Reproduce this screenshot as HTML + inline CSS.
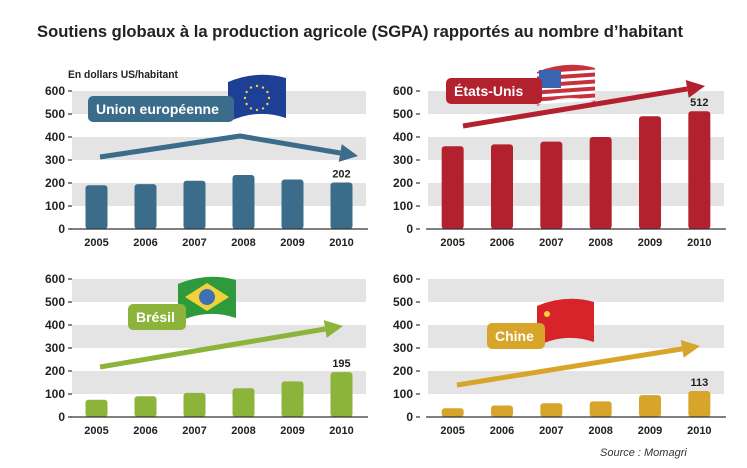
<!DOCTYPE html>
<html><head><meta charset="utf-8"><style>
body{margin:0;background:#fff}
svg{display:block}
text{font-family:"Liberation Sans",sans-serif}
</style></head><body>
<svg id="c" width="747" height="468">
<text x="37" y="37" font-size="17" font-weight="bold" fill="#222" textLength="646" lengthAdjust="spacingAndGlyphs">Soutiens globaux à la production agricole (SGPA) rapportés au nombre d’habitant</text>
<text x="68" y="78" font-size="11" font-weight="bold" fill="#222" textLength="110" lengthAdjust="spacingAndGlyphs">En dollars US/habitant</text>
<text x="600" y="456" font-size="11" font-style="italic" fill="#333">Source : Momagri</text>
</svg>
<script>
const years = ["2005","2006","2007","2008","2009","2010"];
const ticks = [0,100,200,300,400,500,600];
const euValues = [190,195,210,235,215,202];
const usValues = [360,368,380,400,490,512];
const brValues = [75,90,105,125,155,195];
const cnValues = [38,50,60,68,95,113];
const NS="http://www.w3.org/2000/svg";
const svg=document.getElementById('c');
function mk(tag,attrs,parent){const e=document.createElementNS(NS,tag);for(const k in attrs)e.setAttribute(k,attrs[k]);(parent||svg).appendChild(e);return e;}
const panels=[
 {key:'eu',vals:euValues,color:'#3b6d8a',labX:45,x0:72,x1:366,yTop:91,y0:229,label:'Union européenne',box:[88,96,146,26],flag:[228,74,58,48],
  arrow:[[100,157],[240,136],[358,156]]},
 {key:'us',vals:usValues,color:'#b3202e',labX:393,x0:428,x1:724,yTop:91,y0:229,label:'États-Unis',box:[446,78,96,26],flag:[537,64,58,42],
  arrow:[[463,126],[705,86]]},
 {key:'br',vals:brValues,color:'#8cb43a',labX:45,x0:72,x1:366,yTop:279,y0:417,label:'Brésil',box:[128,304,58,26],flag:[178,276,58,46],
  arrow:[[100,367],[343,326]]},
 {key:'cn',vals:cnValues,color:'#d6a52a',labX:393,x0:428,x1:724,yTop:279,y0:417,label:'Chine',box:[487,323,58,26],flag:[537,298,57,48],
  arrow:[[457,385],[700,346]]}
];
panels.forEach(p=>{
 const g=mk('g',{});
 
 
 const yS=v=>p.y0-(v/600)*(p.y0-p.yTop);
 const step=(p.x1-p.x0)/years.length;
 const xS=i=>p.x0+step*(i+0.5);
 [[100,200],[300,400],[500,600]].forEach(b=>{
  const r=mk('rect',{x:p.x0,y:yS(b[1]),width:p.x1-p.x0,height:yS(b[0])-yS(b[1]),fill:'#e4e4e4'},g);
  
  
 });
 ticks.forEach(t=>{
  const tx=mk('text',{x:p.labX+20,y:yS(t)+4,'font-size':12,'font-weight':'bold',fill:'#222','text-anchor':'end'},g);
  tx.textContent=t;
  
  
  mk('line',{x1:p.labX+23,x2:p.labX+27,y1:yS(t),y2:yS(t),stroke:'#333','stroke-width':1.2},g);
 });
 p.vals.forEach((v,i)=>{
  const r=mk('rect',{x:xS(i)-11,y:yS(v),width:22,height:p.y0-yS(v),rx:3,fill:p.color},g);
  
  
  const t=mk('text',{x:xS(i),y:p.y0+17,'font-size':11,'font-weight':'bold',fill:'#222','text-anchor':'middle'},g);
  t.textContent=years[i];
  
  
 });
 mk('line',{x1:p.x0-2,x2:p.x1+2,y1:p.y0,y2:p.y0,stroke:'#333','stroke-width':1.2},g);
 const last=p.vals.length-1;
 const vl=mk('text',{x:xS(last),y:yS(p.vals[last])-5,'font-size':11,'font-weight':'bold',fill:'#222','text-anchor':'middle'},g);
 vl.textContent=p.vals[last];
 
 
 // arrow
 const pts=p.arrow;
 const n=pts.length;
 const [ax,ay]=pts[n-2],[bx,by]=pts[n-1];
 const ang=Math.atan2(by-ay,bx-ax);
 const hx=bx-18*Math.cos(ang),hy=by-18*Math.sin(ang);
 const pl=pts.slice(0,n-1).map(q=>q.join(',')).join(' ')+' '+hx+','+hy;
 const line=mk('polyline',{points:pl,fill:'none',stroke:p.color,'stroke-width':5,'stroke-linejoin':'round'},g);
 
 
 const px=-Math.sin(ang),py=Math.cos(ang);
 mk('polygon',{points:`${bx},${by} ${hx+9*px},${hy+9*py} ${hx-9*px},${hy-9*py}`,fill:p.color},g);
 // flag
 const f=p.flag;
 const flag=mk('g',{},g);
 
 
 const fpath=`M${f[0]},${f[1]+8} Q${f[0]+f[2]*0.5},${f[1]-4} ${f[0]+f[2]},${f[1]+4} L${f[0]+f[2]},${f[1]+f[3]-4} Q${f[0]+f[2]*0.5},${f[1]+f[3]-14} ${f[0]},${f[1]+f[3]} Z`;
 const fc={eu:'#1d3f96',us:'#c8303c',br:'#2e9a3c',cn:'#d8232a'}[p.key];
 mk('path',{d:fpath,fill:fc},flag);
 if(p.key==='us'){for(let k=1;k<6;k++)mk('line',{x1:f[0],x2:f[0]+f[2],y1:f[1]+4+k*7,y2:f[1]+k*7,stroke:'#fff','stroke-width':3},flag);mk('rect',{x:f[0]+2,y:f[1]+6,width:22,height:18,fill:'#3a64b0'},flag);}
 if(p.key==='br'){const cx=f[0]+f[2]/2,cy=f[1]+f[3]/2-2;mk('polygon',{points:`${cx-22},${cy} ${cx},${cy-14} ${cx+22},${cy} ${cx},${cy+14}`,fill:'#f1d23a'},flag);mk('circle',{cx,cy,r:8,fill:'#3f6fb5'},flag);}
 if(p.key==='eu'){const cx=f[0]+f[2]/2,cy=f[1]+f[3]/2;for(let k=0;k<12;k++)mk('circle',{cx:cx+12*Math.cos(k*Math.PI/6),cy:cy+12*Math.sin(k*Math.PI/6),r:1.2,fill:'#f3d33a'},flag);}
 if(p.key==='cn'){mk('circle',{cx:f[0]+10,cy:f[1]+16,r:3,fill:'#f3d33a'},flag);}
 // label box
 const b=p.box;
 const bx2=mk('rect',{x:b[0],y:b[1],width:b[2],height:b[3],rx:5,fill:p.color},g);
 
 
 const lt=mk('text',{x:b[0]+8,y:b[1]+b[3]/2+5,'font-size':14,'font-weight':'bold',fill:'#fff'},g);
 lt.textContent=p.label;
 
 
});
</script>
</body></html>
